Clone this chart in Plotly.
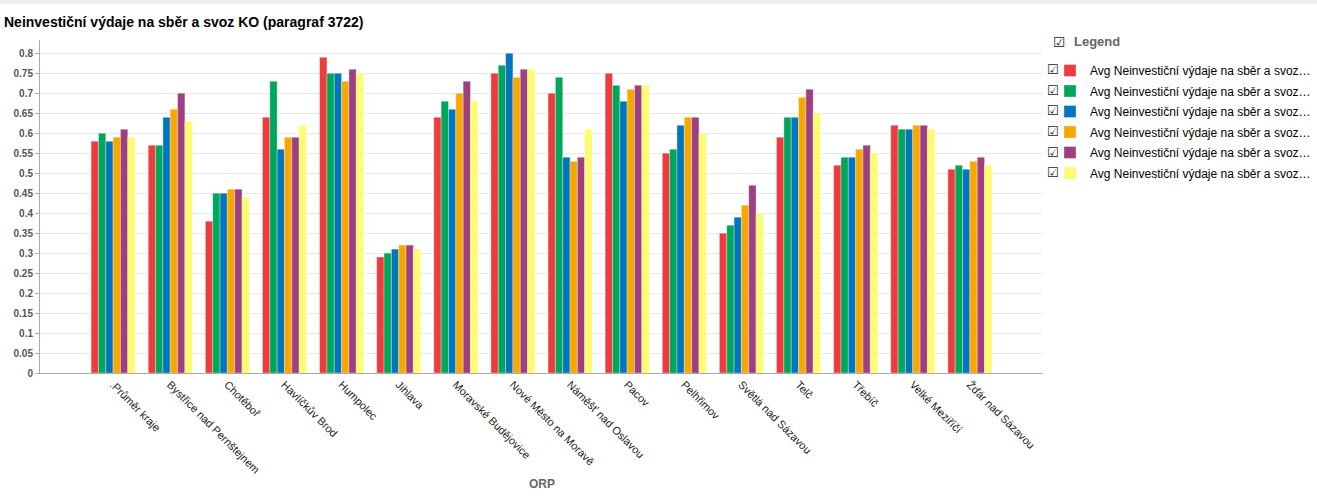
import plotly.graph_objects as go

categories = [".Průměr kraje", "Bystřice nad Pernštejnem", "Chotěboř", "Havlíčkův Brod",
              "Humpolec", "Jihlava", "Moravské Budějovice", "Nové Město na Moravě",
              "Náměšť nad Oslavou", "Pacov", "Pelhřimov", "Světlá nad Sázavou",
              "Telč", "Třebíč", "Velké Meziříčí", "Žďár nad Sázavou"]

series_names = ["Avg Neinvestiční výdaje na sběr a svoz…"] * 6

s1 = [0.58, 0.57, 0.38, 0.64, 0.79, 0.29, 0.64, 0.75, 0.70, 0.75, 0.55, 0.35, 0.59, 0.52, 0.62, 0.51]
s2 = [0.60, 0.57, 0.45, 0.73, 0.75, 0.30, 0.68, 0.77, 0.74, 0.72, 0.56, 0.37, 0.64, 0.54, 0.61, 0.52]
s3 = [0.58, 0.64, 0.45, 0.56, 0.75, 0.31, 0.66, 0.80, 0.54, 0.68, 0.62, 0.39, 0.64, 0.54, 0.61, 0.51]
s4 = [0.59, 0.66, 0.46, 0.59, 0.73, 0.32, 0.70, 0.74, 0.53, 0.71, 0.64, 0.42, 0.69, 0.56, 0.62, 0.53]
s5 = [0.61, 0.70, 0.46, 0.59, 0.76, 0.32, 0.73, 0.76, 0.54, 0.72, 0.64, 0.47, 0.71, 0.57, 0.62, 0.54]
s6 = [0.59, 0.63, 0.44, 0.62, 0.75, 0.31, 0.68, 0.76, 0.61, 0.72, 0.60, 0.40, 0.65, 0.55, 0.61, 0.52]

series = [s1, s2, s3, s4, s5, s6]
colors = ["#ee3b3b", "#00a65a", "#0076be", "#f6a800", "#9e3f7f", "#fdfb70"]

W, H = 1317, 499
L, R, T, B = 40, 1043, 40, 373
pw, ph = R - L, B - T

fig = go.Figure()
for i, (name, vals, col) in enumerate(zip(series_names, series, colors)):
    fig.add_trace(go.Bar(
        x=categories, y=vals, name=name, legendgroup=f"g{i}",
        marker=dict(color=col, line=dict(width=0.6, color="rgba(255,255,255,0.55)")),
    ))

def py(p):  # pixel y -> paper y
    return 1 - (p - T) / ph

def px(p):
    return (p - L) / pw

annotations = []
# legend checkboxes
for i in range(6):
    annotations.append(dict(text="☑", x=px(1053), y=py(70 + 20.5 * i), xref="paper", yref="paper",
                            showarrow=False, font=dict(size=13, color="#222", family="DejaVu Sans"),
                            xanchor="center", yanchor="middle"))
annotations.append(dict(text="☑", x=px(1059), y=py(42), xref="paper", yref="paper",
                        showarrow=False, font=dict(size=14, color="#222", family="DejaVu Sans"),
                        xanchor="center", yanchor="middle"))
annotations.append(dict(text="<b>Legend</b>", x=px(1072), y=py(42), xref="paper", yref="paper",
                        showarrow=False, font=dict(size=13, color="#666", family="Liberation Sans"),
                        xanchor="left", yanchor="middle"))
annotations.append(dict(text="<b>ORP</b>", x=0.5, y=py(484), xref="paper", yref="paper",
                        showarrow=False, font=dict(size=12, color="#666", family="Liberation Sans"),
                        xanchor="center", yanchor="middle"))

fig.update_layout(
    width=W, height=H,
    margin=dict(l=L, r=W - R, t=T, b=H - B, autoexpand=False),
    paper_bgcolor="white", plot_bgcolor="white",
    title=dict(text="<b>Neinvestiční výdaje na sběr a svoz KO (paragraf 3722)</b>",
               x=4 / W, xref="container", xanchor="left",
               y=1 - 22 / H, yref="container", yanchor="middle",
               font=dict(size=14, color="#000", family="Liberation Sans")),
    barmode="group", bargap=0.23, bargroupgap=0,
    showlegend=True,
    legend=dict(x=px(1050), y=py(56), xanchor="left", yanchor="top",
                font=dict(size=12, color="#000", family="Liberation Sans"),
                itemwidth=30, tracegroupgap=1.5, bgcolor="rgba(0,0,0,0)"),
    xaxis=dict(type="category", range=[-1.28, 15 + 1.28], tickangle=45,
               tickfont=dict(size=11, color="#222", family="Liberation Sans"),
               showgrid=False, showline=True, linecolor="#aaaaaa", linewidth=1,
               ticks="", zeroline=False),
    yaxis=dict(range=[0, 0.8333], dtick=0.05, tick0=0, tickformat="~g",
               tickfont=dict(size=10, color="#555", family="Liberation Sans", weight="bold"),
               showgrid=True, gridcolor="#e8e8e8", gridwidth=1,
               showline=True, linecolor="#aaaaaa", linewidth=1,
               ticks="outside", ticklen=4, tickcolor="#aaaaaa", zeroline=False),
    annotations=annotations,
    shapes=[dict(type="rect", xref="paper", yref="paper", x0=px(0), x1=px(W), y0=py(4), y1=py(0),
                 fillcolor="#eeeeee", line=dict(width=0), layer="above")],
)

fig.write_html("out.html", config={"displayModeBar": False},
               post_script="document.body.style.margin='0';document.body.style.overflow='hidden';")
